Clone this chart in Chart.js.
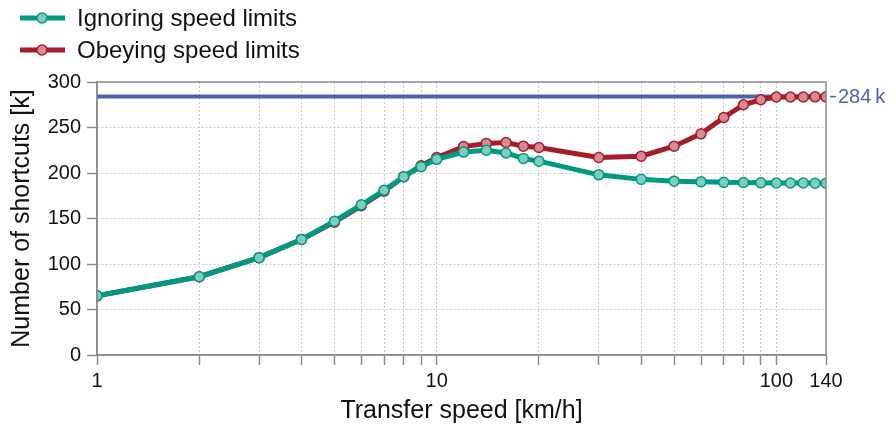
<!DOCTYPE html>
<html>
<head>
<meta charset="utf-8">
<script src="https://cdn.jsdelivr.net/npm/chart.js@4"></script>
<style>
  html, body { margin: 0; padding: 0; background: #fff; }
  #wrap { width: 894px; height: 426px; }
</style>
</head>
<body>
<div id="wrap"><canvas id="lineChart" width="894" height="426"></canvas></div>
<script>
// Transfer speed [km/h] (x, log scale)
var speeds = [1, 2, 3, 4, 5, 6, 7, 8, 9, 10, 12, 14, 16, 18, 20, 30, 40, 50, 60, 70, 80, 90, 100, 110, 120, 130, 140];
// Number of shortcuts [k]
var ignoringLimits = [65, 86, 107, 127, 147, 165, 181, 196, 207, 215, 223, 225, 222, 216, 213, 198, 193, 191, 190.5, 189.7, 189.5, 189.2, 189, 189, 189, 188.8, 188.7];
var obeyingLimits = [65, 86, 107, 127, 146, 164, 180, 196, 208, 217, 229, 232.5, 233.5, 229.5, 228, 217, 218.5, 229.5, 243, 261, 275, 280.5, 283.5, 283.5, 283.5, 283.7, 283.7];
var limitValue = 284;
var xTickValues = [1, 2, 3, 4, 5, 6, 7, 8, 9, 10, 20, 30, 40, 50, 60, 70, 80, 90, 100, 140];
var xTickLabels = [1, 10, 100, 140];
var yTickValues = [0, 50, 100, 150, 200, 250, 300];

var fontName = '"Liberation Sans", Arial, Helvetica, sans-serif';

function toPoints(values) {
    return speeds.map(function (s, i) { return { x: s, y: values[i] }; });
}

// Rahmen um den Plotbereich, Legende oben links und Beschriftung der Grenzlinie
var extrasPlugin = {
    id: 'extras',
    afterDraw: function (chart) {
        var ctx = chart.ctx;
        var area = chart.chartArea;
        ctx.save();
        ctx.strokeStyle = '#8c8c8c';
        ctx.lineWidth = 1.5;
        ctx.strokeRect(area.left, area.top, area.right - area.left, area.bottom - area.top);

        // Beschriftung der 284 k Linie
        var yPix = chart.scales.y.getPixelForValue(limitValue);
        ctx.strokeStyle = '#4a65b0';
        ctx.lineWidth = 1.5;
        ctx.beginPath();
        ctx.moveTo(area.right + 4, yPix);
        ctx.lineTo(area.right + 10, yPix);
        ctx.stroke();
        ctx.fillStyle = '#4a65b0';
        ctx.font = '20px ' + fontName;
        ctx.textBaseline = 'middle';
        ctx.textAlign = 'left';
        ctx.fillText(limitValue + '\u2009k', area.right + 12, yPix + 1);

        // Legende
        ctx.font = '24px ' + fontName;
        var rows = [18, 50];
        [0, 1].forEach(function (i) {
            var ds = chart.data.datasets[i];
            var y = rows[i];
            ctx.strokeStyle = ds.borderColor;
            ctx.lineWidth = 5;
            ctx.beginPath();
            ctx.moveTo(20, y);
            ctx.lineTo(65, y);
            ctx.stroke();
            ctx.beginPath();
            ctx.arc(42, y, 5, 0, Math.PI * 2);
            ctx.fillStyle = ds.pointBackgroundColor;
            ctx.fill();
            ctx.lineWidth = 1.5;
            ctx.strokeStyle = ds.pointBorderColor;
            ctx.stroke();
            ctx.fillStyle = '#111';
            ctx.fillText(ds.label, 77, y + 1);
        });
        ctx.restore();
    }
};

var currentLineChart = new Chart(document.getElementById('lineChart').getContext('2d'), {
    type: 'line',
    data: {
        datasets: [{
            label: 'Ignoring speed limits',
            data: toPoints(ignoringLimits),
            borderColor: '#009a82',
            borderWidth: 5,
            pointBackgroundColor: '#7ecdbf',
            pointBorderColor: '#009a82',
            pointBorderWidth: 1.5,
            pointRadius: 5,
            tension: 0,
            order: 1
        },
        {
            label: 'Obeying speed limits',
            data: toPoints(obeyingLimits),
            borderColor: '#a31d2a',
            borderWidth: 5,
            pointBackgroundColor: '#d68a94',
            pointBorderColor: '#a31d2a',
            pointBorderWidth: 1.5,
            pointRadius: 5,
            tension: 0,
            order: 2
        },
        {
            label: 'limit',
            data: [{ x: speeds[0], y: limitValue }, { x: speeds[speeds.length - 1], y: limitValue }],
            borderColor: '#4a65b0',
            borderWidth: 4,
            pointRadius: 0,
            order: 3
        }]
    },
    options: {
        responsive: false,
        animation: false,
        layout: { padding: { left: 0, right: 68, top: 82, bottom: 0 } },
        plugins: {
            legend: { display: false },
            tooltip: { enabled: false }
        },
        scales: {
            x: {
                type: 'logarithmic',
                min: 1,
                max: 140,
                afterBuildTicks: function (scale) {
                    scale.ticks = xTickValues.map(function (v) { return { value: v }; });
                },
                afterFit: function (scale) { scale.height = 71; },
                ticks: {
                    autoSkip: false,
                    maxRotation: 0,
                    padding: 4,
                    color: '#111',
                    font: { family: fontName, size: 20 },
                    callback: function (value) {
                        return xTickLabels.indexOf(value) >= 0 ? String(value) : '';
                    }
                },
                grid: {
                    color: '#c8c8c8',
                    lineWidth: 1,
                    tickLength: 10,
                    tickColor: '#8c8c8c',
                    tickWidth: 1.5
                },
                border: { display: true, color: '#8c8c8c', width: 1.5, dash: [2, 2] },
                title: {
                    display: true,
                    text: 'Transfer speed [km/h]',
                    color: '#111',
                    font: { family: fontName, size: 25 },
                    padding: { top: 0, bottom: 0 }
                }
            },
            y: {
                min: 0,
                max: 300,
                afterBuildTicks: function (scale) {
                    scale.ticks = yTickValues.map(function (v) { return { value: v }; });
                },
                afterFit: function (scale) { scale.width = 97; },
                ticks: {
                    padding: 6,
                    color: '#111',
                    font: { family: fontName, size: 20 }
                },
                grid: {
                    color: '#c8c8c8',
                    lineWidth: 1,
                    tickLength: 10,
                    tickColor: '#8c8c8c',
                    tickWidth: 1.5
                },
                border: { display: true, color: '#8c8c8c', width: 1.5, dash: [2, 2] },
                title: {
                    display: true,
                    text: 'Number of shortcuts [k]',
                    color: '#111',
                    font: { family: fontName, size: 25 },
                    padding: { top: 7, bottom: 0 }
                }
            }
        }
    },
    plugins: [extrasPlugin]
});
</script>
</body>
</html>
